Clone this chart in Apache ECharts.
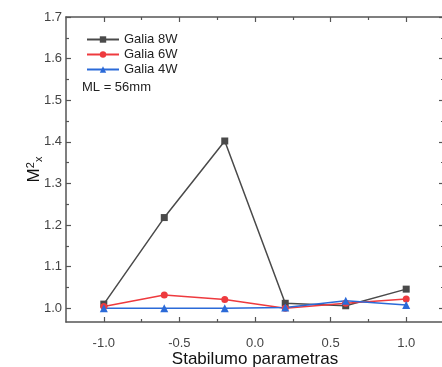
<!DOCTYPE html>
<html>
<head>
<meta charset="utf-8">
<script src="https://cdn.jsdelivr.net/npm/echarts@6/dist/echarts.min.js"></script>
<style>
  html, body { margin: 0; padding: 0; background: #fff; }
  #chart { width: 442px; height: 367px; }
</style>
</head>
<body>
<div id="chart"></div>
<script>
// Stability parameter sweep
const stabilumas = [-1.0, -0.6, -0.2, 0.2, 0.6, 1.0];
const galia8W = [1.010, 1.218, 1.402, 1.012, 1.006, 1.046];
const galia6W = [1.004, 1.032, 1.021, 1.000, 1.012, 1.022];
const galia4W = [1.000, 1.000, 1.000, 1.002, 1.018, 1.008];
const seriesNames = ['Galia 8W', 'Galia 6W', 'Galia 4W'];
const xTicks = [-1.0, -0.5, 0.0, 0.5, 1.0];
const xMinorTicks = [-0.75, -0.25, 0.25, 0.75];
const yTicks = [1.0, 1.1, 1.2, 1.3, 1.4, 1.5, 1.6, 1.7];
const yMinorTicks = [1.05, 1.15, 1.25, 1.35, 1.45, 1.55, 1.65];

const FONT = 'Liberation Sans, Arial, sans-serif';
const axisColor = '#555';
const labelColor = '#444';
const X_RANGE = [-1.25, 1.25];
const Y_RANGE = [0.967, 1.7];

function pairs(ys) { return stabilumas.map((x, i) => [x, ys[i]]); }

// one axis: optional line, inward ticks at given values, optional labels
function axis(kind, gridIndex, position, ticks, tickLen, opts) {
  const range = kind === 'x' ? X_RANGE : Y_RANGE;
  return Object.assign({
    type: 'value', gridIndex: gridIndex, position: position,
    min: range[0], max: range[1],
    axisLine: { show: !!(opts && opts.line), onZero: false, lineStyle: { color: axisColor, width: 1.5 } },
    axisTick: { show: true, inside: true, length: tickLen, customValues: ticks, lineStyle: { color: axisColor, width: 1.2 } },
    axisLabel: { show: false },
    splitLine: { show: false }
  }, (opts && opts.extra) || {});
}

const gridBox = { left: 66, right: -2, top: 17, bottom: 45, outerBoundsMode: 'none', containLabel: false };

const chart = echarts.init(document.getElementById('chart'), null, { renderer: 'canvas' });

chart.setOption({
  animation: false,
  grid: [Object.assign({}, gridBox), Object.assign({}, gridBox)],
  legend: {
    data: seriesNames,
    orient: 'vertical',
    left: 81, top: 28,
    itemWidth: 32, itemHeight: 8, itemGap: 2,
    textStyle: { fontFamily: FONT, fontSize: 13, color: '#222' }
  },
  graphic: [{
    type: 'text', left: 82, top: 81,
    style: { text: 'ML = 56mm', font: '13px "Liberation Sans", Arial, sans-serif', fill: '#222' }
  }],
  xAxis: [
    axis('x', 0, 'bottom', xTicks, 5, { line: true, extra: {
      name: 'Stabilumo parametras', nameLocation: 'middle', nameGap: 29, nameMoveOverlap: false,
      nameTextStyle: { fontFamily: FONT, fontSize: 17, color: '#111' },
      axisLabel: {
        show: true, margin: 15, color: labelColor, fontSize: 13, fontFamily: FONT,
        customValues: xTicks, formatter: v => v.toFixed(1)
      }
    } }),
    axis('x', 0, 'top', xTicks, 5, { line: true }),
    axis('x', 1, 'bottom', xMinorTicks, 3),
    axis('x', 1, 'top', xMinorTicks, 3)
  ],
  yAxis: [
    axis('y', 0, 'left', yTicks, 5, { line: true, extra: {
      axisLabel: {
        show: true, margin: 4, color: labelColor, fontSize: 13, fontFamily: FONT,
        customValues: yTicks, formatter: v => v.toFixed(1)
      },
      name: '{m|M}{s|2}{x|x}', nameLocation: 'middle', nameGap: 22, nameRotate: 90, nameMoveOverlap: false,
      nameTextStyle: {
        rich: {
          m: { fontSize: 17, fontFamily: FONT, color: '#111' },
          s: { fontSize: 11, fontFamily: FONT, color: '#111', verticalAlign: 'top', padding: [0, 0, 8, 0] },
          x: { fontSize: 11, fontFamily: FONT, color: '#111', verticalAlign: 'bottom', padding: [6, 0, 0, 0] }
        }
      }
    } }),
    axis('y', 0, 'right', yTicks, 5, { line: true }),
    axis('y', 1, 'left', yMinorTicks, 3),
    axis('y', 1, 'right', yMinorTicks, 3)
  ],
  series: [
    {
      name: seriesNames[0], type: 'line', data: pairs(galia8W),
      xAxisIndex: 0, yAxisIndex: 0,
      symbol: 'rect', symbolSize: 7,
      lineStyle: { color: '#4a4a4a', width: 1.5 },
      itemStyle: { color: '#4a4a4a' }
    },
    {
      name: seriesNames[1], type: 'line', data: pairs(galia6W),
      xAxisIndex: 0, yAxisIndex: 0,
      symbol: 'circle', symbolSize: 7,
      lineStyle: { color: '#ee3a3e', width: 1.5 },
      itemStyle: { color: '#ee3a3e' }
    },
    {
      name: seriesNames[2], type: 'line', data: pairs(galia4W),
      xAxisIndex: 0, yAxisIndex: 0,
      symbol: 'triangle', symbolSize: 8,
      lineStyle: { color: '#2b6ad8', width: 1.5 },
      itemStyle: { color: '#2b6ad8' }
    }
  ]
});
</script>
</body>
</html>
